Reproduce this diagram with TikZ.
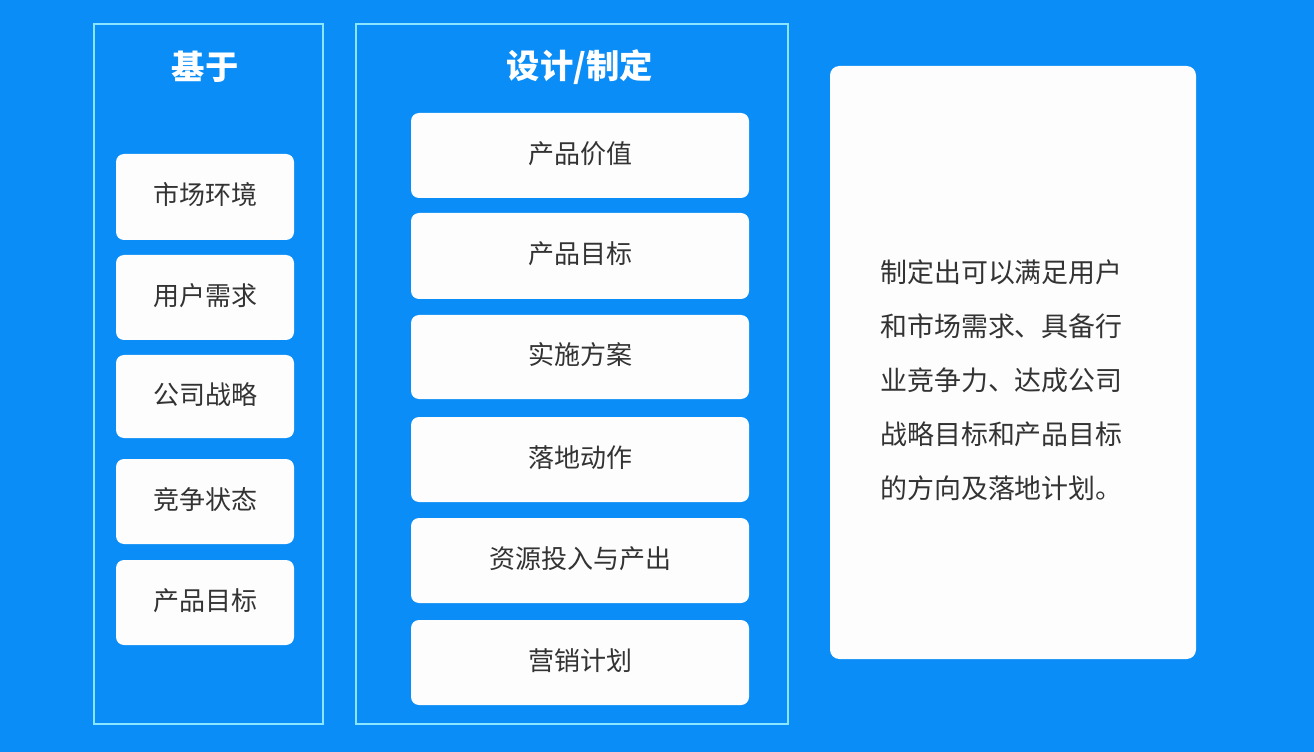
\documentclass[tikz,border=0pt]{standalone}
\usepackage{fontspec}
\newfontfamily\cjk{Noto Sans CJK SC}
\definecolor{bg}{HTML}{0A8DF6}
\definecolor{frame}{HTML}{8AE6FF}
\definecolor{card}{HTML}{FDFDFD}
\definecolor{txt}{HTML}{333333}
\begin{document}
\begin{tikzpicture}[x=0.75pt,y=-0.75pt,
  panel/.style={draw=frame,line width=1.5pt},
  cardbox/.style={fill=card,rounded corners=6pt,draw=none},
  lbl/.style={font=\cjk\fontsize{19.5}{23}\selectfont,text=txt},
  ttl/.style={font=\cjk\bfseries\fontsize{25}{29}\selectfont,text=white}]
\fill[bg] (0,0) rectangle (1314,752);
\useasboundingbox (0,0) rectangle (1314,752);
% frames
\draw[panel] (94,24) rectangle (323,724);
\draw[panel] (356,24) rectangle (788,724);
\node[ttl] (t1) at (205,67) {基于};
\node[ttl] (t2) at (580,67) {设计/制定};
% left cards
\foreach \n/\a/\b/\t in {l1/154/240/市场环境,l2/255/340/用户需求,l3/355/438/公司战略,l4/459/544/竞争状态,l5/560/645/产品目标}{
  \fill[cardbox] (116,\a) rectangle (294,\b);
  \node[lbl] (\n) at (205,{(\a+\b)/2-2}) {\t};
}
% middle cards
\foreach \n/\a/\b/\t in {m1/113/198/产品价值,m2/213/299/产品目标,m3/315/399/实施方案,m4/417/502/落地动作,m5/518/603/资源投入与产出,m6/620/705/营销计划}{
  \fill[cardbox] (411,\a) rectangle (749,\b);
  \node[lbl] (\n) at (580,{(\a+\b)/2-2}) {\t};
}
% right card
\fill[cardbox,rounded corners=7pt] (830,66) rectangle (1196,659);
\node[font=\cjk\fontsize{20.2}{40.5}\selectfont,text=txt,align=left,anchor=north west,inner sep=0pt] (r) at (880,259)
{制定出可以满足用户\\和市场需求、具备行\\业竞争力、达成公司\\战略目标和产品目标\\的方向及落地计划。};
\end{tikzpicture}
\end{document}
